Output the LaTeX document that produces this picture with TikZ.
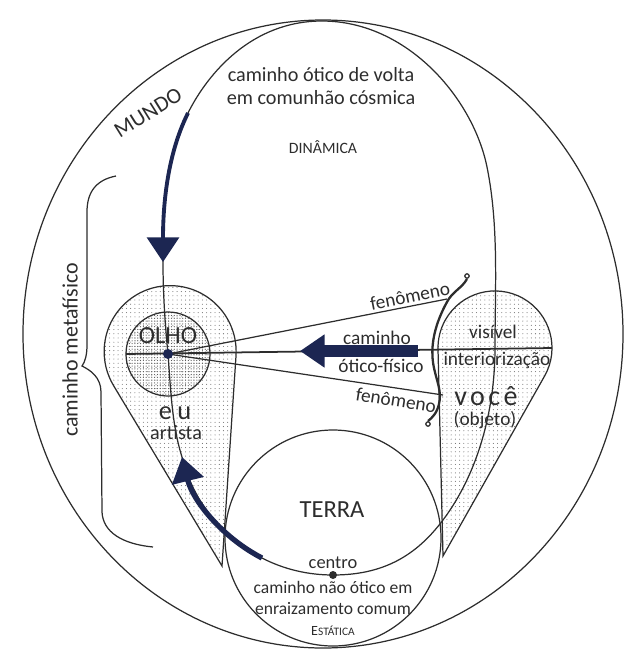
\documentclass[tikz,border=0pt]{standalone}
\usepackage{fontspec}
\setmainfont{Carlito}
\usetikzlibrary{arrows.meta,patterns.meta}
\definecolor{Ink}{RGB}{45,45,45}
\definecolor{Navy}{RGB}{28,38,82}

\begin{document}
\begin{tikzpicture}[x=0.02cm,y=-0.02cm,
  line/.style={draw=Ink,line width=0.7pt},
  stipple/.style={pattern={Dots[radius=0.3pt,distance=2.4pt]},pattern color=Ink!70},
  densestipple/.style={pattern={Dots[radius=0.35pt,distance=1.6pt]},pattern color=Ink!80},
  flow/.style={draw=Navy,line width=#1,-{Triangle[length=14pt,width=18pt]}},
  flow/.default=2pt,
  lbl/.style={text=Ink,inner sep=0pt},
  every node/.style={font=\fontsize{11}{13}\selectfont}]
  \useasboundingbox (0,0) rectangle (632,650);

  \coordinate (O) at (168,354);
  \coordinate (V) at (495,348);
  \coordinate (tipL) at (222,566);
  \coordinate (tipR) at (443,556);
  \coordinate (top) at (322,21);
  \coordinate (eA) at (188,113);
  \coordinate (eM) at (163,262);
  \coordinate (eB) at (182,457);
  \coordinate (eC) at (262,558);
  \coordinate (centro) at (333,575);
  \coordinate (eE) at (443,520);
  \coordinate (eF) at (487,167);
  \coordinate (olhoW) at (126,354);
  \coordinate (voceE) at (552,348);
  \coordinate (fenU) at (447,299);
  \coordinate (fenD) at (443,395);
  \coordinate (arrS) at (418,351);
  \coordinate (arrT) at (300,351);

  \draw[line] (323,334) ellipse[x radius=300,y radius=314];

  \draw[line,stipple] (tipL) -- (236,356) arc[start angle=3.8,end angle=-211.1,radius=66] -- cycle;
  \draw[line,stipple] (tipR) -- (544.6,376) arc[start angle=29.5,end angle=-181.4,radius=57] -- cycle;
  \draw[line,densestipple] (O) circle[radius=42];

  \draw[line] (top) .. controls (252,21) and (208,73) .. (eA)
    .. controls (165.6,157.7) and (163,212) .. (eM)
    .. controls (163,293) and (165,324) .. (O)
    .. controls (170.7,389) and (171.8,424.7) .. (eB)
    .. controls (192.8,500.6) and (222,537.3) .. (eC)
    .. controls (284,569.4) and (308.3,575) .. (centro)
    .. controls (383,575) and (416,556) .. (eE)
    .. controls (479,472) and (495,408) .. (V)
    .. controls (495,288) and (499,226) .. (eF)
    .. controls (473,98) and (407,21) .. (top);

  \draw[line] (333,538) circle[radius=108];

  \draw[line] (O) -- (fenU);
  \draw[line] (O) -- (fenD);
  \draw[line,line width=1pt] (olhoW) -- (voceE);

  \draw[flow=2.2pt] (eA) .. controls (165.6,157.7) and (163,212) .. (eM);
  \draw[flow=3pt] (eC) .. controls (222,537.3) and (192.8,500.6) .. (eB);
  \draw[flow=6.5pt] (arrS) -- (arrT);

  \fill[Navy] (O) circle[radius=5];
  \fill[Ink] (centro) circle[radius=4];

  \draw[line,line width=1.3pt] (467,279) .. controls (462,288) and (452,292) .. (447,302)
    .. controls (436,322) and (429,345) .. (434,368)
    .. controls (437,382) and (442,392) .. (439,404)
    .. controls (437,413) and (432,418) .. (428,421);
  \draw[line] (467,276) circle[radius=2.2];
  \draw[line] (428,424) circle[radius=2.2];

  \draw[line] (116,176) .. controls (96,180) and (87,192) .. (87,212) -- (87,345)
    .. controls (87,355) and (85,362) .. (82,366)
    .. controls (90,370) and (101,377) .. (101,392) -- (102,512)
    .. controls (103,532) and (122,544) .. (153,547);

  \node[lbl,align=center,font=\fontsize{11.5}{13.5}\selectfont] (volta) at (321,86) {caminho ótico de volta\\em comunhão cósmica};
  \node[lbl,font=\fontsize{9}{11}\selectfont] (dinamica) at (323,147) {DINÂMICA};
  \node[lbl,rotate=32,font=\fontsize{12.5}{14}\selectfont] (mundo) at (148,113) {MUNDO};
  \node[lbl,font=\fontsize{14}{16}\selectfont] (olhoT) at (168,336) {OLHO};
  \node[lbl,font=\fontsize{15}{17}\selectfont\addfontfeature{LetterSpace=20}] (eu) at (175,413) {eu};
  \node[lbl,font=\fontsize{11.5}{13}\selectfont] (artista) at (176,433) {artista};
  \node[lbl,rotate=11] (fenA) at (410,296) {fenômeno};
  \node[lbl,rotate=-9] (fenB) at (396,400) {fenômeno};
  \node[lbl] (caminho) at (377,338) {caminho};
  \node[lbl] (otico) at (381,366) {ótico-físico};
  \node[lbl] (visivel) at (493,332) {visível};
  \node[lbl] (interior) at (497,360) {interiorização};
  \node[lbl,font=\fontsize{16}{18}\selectfont\addfontfeature{LetterSpace=12}] (voce) at (486,396) {você};
  \node[lbl] (objeto) at (485,420) {(objeto)};
  \node[lbl,font=\fontsize{14}{16}\selectfont] (terra) at (332,510) {TERRA};
  \node[lbl,font=\fontsize{10.5}{12}\selectfont] (centroT) at (333,563) {centro};
  \node[lbl,align=center,font=\fontsize{10}{11.5}\selectfont] (raiz) at (333,598) {caminho não ótico em\\enraizamento comum};
  \node[lbl] (estatica) at (333,631) {{\fontsize{8}{9}\selectfont E}{\fontsize{6.5}{8}\selectfont STÁTICA}};
  \node[lbl,rotate=90,font=\fontsize{12.5}{14}\selectfont] (metaf) at (70,350) {caminho metafísico};
\end{tikzpicture}
\end{document}
